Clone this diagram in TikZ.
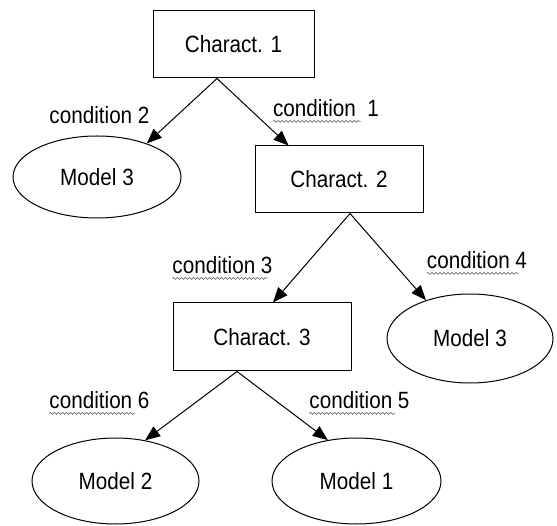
\documentclass[tikz,border=0pt]{standalone}
\usepackage{fontspec}
\setmainfont{Liberation Sans}[FakeStretch=0.88]
\usetikzlibrary{shapes.geometric,arrows.meta,decorations.pathmorphing}

\begin{document}
\begin{tikzpicture}[x=1pt, y=1pt, font=\fontsize{23.5}{27}\selectfont]
        \useasboundingbox (0,0) rectangle (557,525);
        \begin{scope}[every node/.style={draw, line width=1pt, rectangle, minimum height=67pt, inner sep=0}]
            \node [minimum width=161pt] (C1) at (233.5,480.5) {Charact. 1};
            \node [minimum width=168pt] (C2) at (339,345.5) {Charact. 2};
            \node [minimum width=178pt, minimum height=68pt] (C3) at (262,188) {Charact. 3};
        \end{scope}
        \begin{scope}[every node/.style={draw, line width=1pt, ellipse, inner sep=0}]
            \node [minimum width=168pt, minimum height=82pt] (M3a) at (97,348) {Model 3};
            \node [minimum width=166pt, minimum height=89pt] (M3b) at (470,186.5) {Model 3};
            \node [minimum width=167pt, minimum height=86pt] (M2) at (115.5,44) {Model 2};
            \node [minimum width=169pt, minimum height=86pt] (M1) at (356.5,44) {Model 1};
        \end{scope}
        \begin{scope}[every node/.style={inner sep=0}]
            \node (cond2) at (99.5,410) {condition 2};
            \node (cond1) at (326,417) {condition\ \ 1};
            \node (cond3) at (222.5,260) {condition 3};
            \node (cond4) at (477,265) {condition 4};
            \node (cond6) at (99.5,125) {condition 6};
            \node (cond5) at (359.5,125) {condition 5};
        \end{scope}
        \begin{scope}[every path/.style={line width=1pt, -{Triangle[length=15pt,width=12pt]}}]
            \path ([xshift=-16.5pt]C1.south) edge (M3a.34);
            \path ([xshift=-16.5pt]C1.south) edge (C2.146);
            \path ([xshift=11pt]C2.south) edge ([xshift=11pt]C3.north);
            \path ([xshift=11pt]C2.south) edge (M3b.139);
            \path ([xshift=-25pt]C3.south) edge (M2.54);
            \path ([xshift=-25pt]C3.south) edge (M1.125);
        \end{scope}
        % spell-check squiggles
        \begin{scope}[every path/.style={draw=black!55, line width=0.7pt, decorate, decoration={snake, amplitude=1pt, segment length=4pt}}]
            \path ([yshift=-5pt]cond1.base west) -- ++(88,0);
            \path ([yshift=-5pt]cond3.base west) -- ++(95,0);
            \path ([yshift=-5pt]cond4.base west) -- ++(92,0);
            \path ([yshift=-5pt]cond6.base west) -- ++(86,0);
            \path ([yshift=-5pt]cond5.base west) -- ++(86,0);
        \end{scope}
    \end{tikzpicture}
\end{document}
